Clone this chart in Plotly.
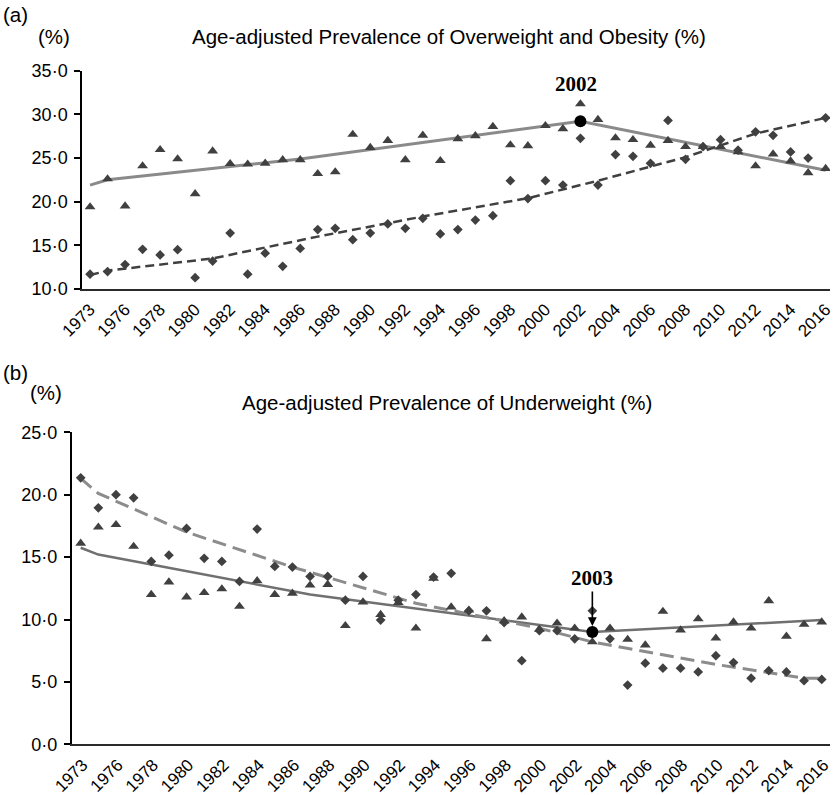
import plotly.graph_objects as go

# ---------------- data ----------------
years = ["1973", "1975", "1976", "1977", "1978", "1979", "1980", "1981", "1982", "1983",
         "1984", "1985", "1986", "1987", "1988", "1989", "1990", "1991", "1992", "1993",
         "1994", "1995", "1996", "1997", "1998", "1999", "2000", "2001", "2002", "2003",
         "2004", "2005", "2006", "2007", "2008", "2009", "2010", "2011", "2012", "2013",
         "2014", "2015", "2016"]
tick_years = ["1973", "1976", "1978", "1980", "1982", "1984", "1986", "1988", "1990", "1992",
              "1994", "1996", "1998", "2000", "2002", "2004", "2006", "2008", "2010", "2012",
              "2014", "2016"]

# (a) overweight and obesity
ow_triangle = [19.4, 22.6, 19.5, 24.1, 25.95, 24.9, 20.9, 25.8, 24.35, 24.3,
               24.4, 24.8, 24.8, 23.2, 23.4, 27.7, 26.2, 27.0, 24.8, 27.6,
               24.7, 27.2, 27.55, 28.6, 26.5, 26.4, 28.7, 28.35, 31.2, 29.4,
               27.3, 27.1, 26.45, 27.0, 26.3, 26.3, 26.3, 25.7, 24.1, 25.45,
               24.65, 23.3, 23.8]
ow_diamond = [11.7, 12.0, 12.8, 14.55, 13.9, 14.5, 11.3, 13.2, 16.4, 11.7,
              14.1, 12.6, 14.65, 16.8, 16.95, 15.65, 16.4, 17.45, 16.95, 18.1,
              16.3, 16.8, 17.9, 18.4, 22.4, 20.35, 22.4, 21.9, 27.25, 21.9,
              25.4, 25.2, 24.4, 29.3, 24.85, 26.3, 27.1, 25.9, 28.0, 27.6,
              25.7, 25.0, 29.6]
ow_tri_trend_x = ["1973", "1975", "1986", "2002", "2016"]
ow_tri_trend_y = [21.9, 22.5, 24.9, 29.2, 23.6]
ow_dia_trend_x = ["1973", "1975", "1981", "1987", "1993", "1999", "2003", "2008", "2012", "2016"]
ow_dia_trend_y = [11.6, 12.1, 13.5, 16.0, 18.3, 20.4, 22.4, 25.1, 27.8, 29.6]
ow_joinpoint_x = ["2002"]
ow_joinpoint_y = [29.2]

# (b) underweight
uw_triangle = [16.1, 17.4, 17.6, 15.85, 12.0, 13.0, 11.8, 12.15, 12.45, 11.05,
               13.1, 12.0, 12.1, 12.75, 12.8, 9.5, 11.4, 10.4, 11.35, 9.3,
               13.3, 11.0, 10.75, 8.45, 9.9, 10.2, 9.2, 9.7, 9.3, 8.2,
               9.3, 8.4, 7.95, 10.65, 9.15, 10.05, 8.5, 9.8, 9.3, 11.5,
               8.65, 9.6, 9.8]
uw_diamond = [21.35, 18.95, 20.0, 19.75, 14.65, 15.15, 17.3, 14.9, 14.65, 13.05,
              17.25, 14.25, 14.2, 13.45, 13.45, 11.55, 13.45, 9.95, 11.55, 12.0,
              13.4, 13.7, 10.7, 10.7, 9.75, 6.7, 9.1, 9.1, 8.45, 10.7,
              8.45, 4.75, 6.5, 6.1, 6.1, 5.8, 7.1, 6.55, 5.3, 5.9,
              5.8, 5.1, 5.2]
uw_tri_trend_x = ["1973", "1975", "1987", "2003", "2016"]
uw_tri_trend_y = [15.75, 15.2, 12.0, 9.0, 9.95]
uw_dia_trend_x = ["1973", "1975", "1980", "1986", "1993", "2000", "2003", "2010", "2015", "2016"]
uw_dia_trend_y = [21.3, 20.1, 17.0, 14.2, 11.3, 9.3, 8.2, 6.4, 5.3, 5.3]
uw_joinpoint_x = ["2003"]
uw_joinpoint_y = [9.0]

ya_vals = [10, 15, 20, 25, 30, 35]
ya_text = ["10\u00b70", "15\u00b70", "20\u00b70", "25\u00b70", "30\u00b70", "35\u00b70"]
yb_vals = [0, 5, 10, 15, 20, 25]
yb_text = ["0\u00b70", "5\u00b70", "10\u00b70", "15\u00b70", "20\u00b70", "25\u00b70"]

# ---------------- figure ----------------
W, H = 835, 795
SANS = "Liberation Sans, Arial, sans-serif"
SERIF = "Liberation Serif, Times New Roman, serif"
MARK = "#404040"

def px(x):
    return x / W

def py(y):
    return 1 - y / H

fig = go.Figure()

# panel (a)
fig.add_trace(go.Scatter(x=ow_tri_trend_x, y=ow_tri_trend_y, mode="lines",
                         line=dict(color="#8a8a8a", width=3), xaxis="x", yaxis="y"))
fig.add_trace(go.Scatter(x=ow_dia_trend_x, y=ow_dia_trend_y, mode="lines",
                         line=dict(color="#404040", width=2.5, dash="9px,5px"), xaxis="x", yaxis="y"))
fig.add_trace(go.Scatter(x=years, y=ow_triangle, mode="markers",
                         marker=dict(symbol="triangle-up", size=9.5, color=MARK), xaxis="x", yaxis="y"))
fig.add_trace(go.Scatter(x=years, y=ow_diamond, mode="markers",
                         marker=dict(symbol="diamond", size=7.5, color=MARK), xaxis="x", yaxis="y"))
fig.add_trace(go.Scatter(x=ow_joinpoint_x, y=ow_joinpoint_y, mode="markers",
                         marker=dict(symbol="circle", size=12, color="black"), xaxis="x", yaxis="y"))

# panel (b)
fig.add_trace(go.Scatter(x=uw_tri_trend_x, y=uw_tri_trend_y, mode="lines",
                         line=dict(color="#707070", width=2.5), xaxis="x2", yaxis="y2"))
fig.add_trace(go.Scatter(x=uw_dia_trend_x, y=uw_dia_trend_y, mode="lines",
                         line=dict(color="#8c8c8c", width=3, dash="14px,7px"), xaxis="x2", yaxis="y2"))
fig.add_trace(go.Scatter(x=years, y=uw_triangle, mode="markers",
                         marker=dict(symbol="triangle-up", size=9.5, color=MARK), xaxis="x2", yaxis="y2"))
fig.add_trace(go.Scatter(x=years, y=uw_diamond, mode="markers",
                         marker=dict(symbol="diamond", size=7.5, color=MARK), xaxis="x2", yaxis="y2"))
fig.add_trace(go.Scatter(x=uw_joinpoint_x, y=uw_joinpoint_y, mode="markers",
                         marker=dict(symbol="circle", size=12, color="black"), xaxis="x2", yaxis="y2"))

xcommon = dict(type="category", categoryorder="array", categoryarray=years,
               tickvals=tick_years, ticktext=tick_years, tickangle=-45,
               showgrid=False, zeroline=False, showline=True, linecolor="#2a2a2a", linewidth=2,
               ticks="", tickfont=dict(family=SANS, size=17, color="black"), automargin=False,
               ticklabelstandoff=2)
ycommon = dict(showgrid=False, zeroline=False, showline=True, linecolor="black", linewidth=1.5,
               ticks="outside", ticklen=6, tickwidth=1.5, tickcolor="black",
               ticklabelstandoff=3, tickfont=dict(family=SANS, size=18, color="black"),
               automargin=False)

fig.update_layout(
    width=W, height=H,
    margin=dict(l=0, r=0, t=0, b=0, autoexpand=False),
    paper_bgcolor="white", plot_bgcolor="white",
    showlegend=False,
    xaxis=dict(xcommon, domain=[px(82), px(830)], range=[-0.46, 42.25], anchor="y",
               ticklabelshift=0),
    yaxis=dict(ycommon, domain=[py(289), py(70.7)], range=[10, 35],
               tickvals=ya_vals, ticktext=ya_text, anchor="x"),
    xaxis2=dict(xcommon, domain=[px(71.7), px(830)], range=[-0.51, 42.47], anchor="y2",
                ticklabelshift=2),
    yaxis2=dict(ycommon, domain=[py(744.3), py(432.3)], range=[0, 25],
                tickvals=yb_vals, ticktext=yb_text, anchor="x2"),
)

def label(text, x, y, size=20.5, xanchor="center"):
    fig.add_annotation(text=text, x=px(x), y=py(y), xref="paper", yref="paper",
                       xanchor=xanchor, yanchor="middle", showarrow=False,
                       font=dict(family=SANS, size=size, color="black"))

label("(a)", 1, 15, xanchor="left")
label("(%)", 54, 37)
label("Age-adjusted Prevalence of Overweight and Obesity (%)", 449, 37)
label("(b)", 1, 372, xanchor="left")
label("(%)", 46, 392)
label("Age-adjusted Prevalence of Underweight (%)", 447.5, 402)

fig.add_annotation(text="<b>2002</b>", x=years.index(ow_joinpoint_x[0]), y=ow_joinpoint_y[0],
                   xref="x", yref="y", showarrow=False, yshift=37, xshift=-4,
                   font=dict(family=SERIF, size=21, color="black"))
fig.add_annotation(text="<b>2003</b>", x=years.index(uw_joinpoint_x[0]), y=uw_joinpoint_y[0],
                   xref="x2", yref="y2", showarrow=True, ax=0, ay=-54, arrowhead=2,
                   arrowsize=1.1, arrowwidth=1.6, arrowcolor="black", standoff=6,
                   font=dict(family=SERIF, size=21, color="black"))

fig.write_html("out.html", config={"displayModeBar": False},
               post_script="document.body.style.margin='0';")
